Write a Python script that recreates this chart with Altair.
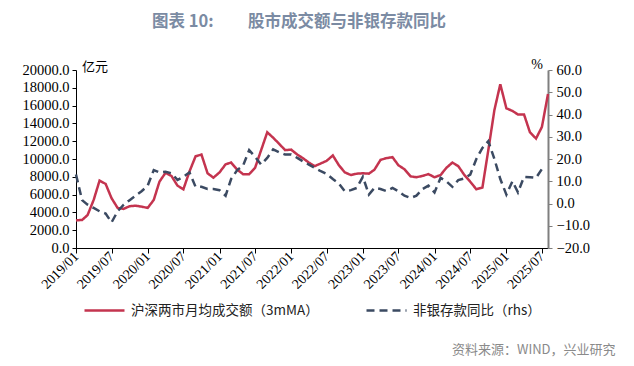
import altair as alt
import pandas as pd

months = pd.date_range("2019-01-01", "2025-08-01", freq="MS").strftime("%Y-%m-%d").tolist()

turnover = [3100, 3150, 3700, 5400, 7570, 7200, 5600, 4500, 4400, 4700,
            4750, 4650, 4500, 5400, 7450, 8450, 8100, 7000, 6600, 8600,
            10300, 10500, 8400, 7900, 8500, 9400, 9600, 8800, 8300, 8300,
            9000, 11000, 13000, 12400, 11700, 11000, 11050, 10500, 10100, 9600,
            9200, 9500, 9800, 10400, 9300, 8500, 8200, 8350, 8400, 8350,
            8800, 9900, 10100, 10200, 9300, 8850, 8050, 7950, 8100, 8300,
            7950, 8200, 9000, 9600, 9200, 8200, 7450, 6600, 6800, 11000,
            15500, 18400, 15700, 15400, 15000, 15000, 13000, 12300, 13600, 17300]

deposit_yoy = [13, 1.5, -0.5, -2, -3.5, -4.5, -8.5, -3.5, -0.5, 1.5,
               3.5, 5.5, 8, 15, 14, 14.3, 13.6, 10.6, 12, 14,
               7.5, 7.5, 6.5, 6.5, 6, 3.5, 11, 15, 17, 24,
               21, 17.5, 20.5, 24.3, 23, 22, 22, 20.5, 19, 17.5,
               16, 14.5, 13.3, 11, 9, 5.5, 6, 7, 12, 4,
               7, 6.5, 5.6, 7, 5.5, 3.5, 2.5, 3.5, 6.5, 8,
               5, 11.5, 10, 7.5, 10.5, 11.3, 13, 20, 25, 28,
               20, 11, 4, 10, 5, 12, 11.8, 11.5, 15.5, None]

series_names = ["沪深两市月均成交额（3mMA）", "非银存款同比（rhs）"]
series_colors = ["#c4344f", "#3b4a62"]
left_ticks = [0, 2000, 4000, 6000, 8000, 10000, 12000, 14000, 16000, 18000, 20000]
right_ticks = [-20, -10, 0, 10, 20, 30, 40, 50, 60]
x_ticks = ["2019-01-01", "2019-07-01", "2020-01-01", "2020-07-01", "2021-01-01",
           "2021-07-01", "2022-01-01", "2022-07-01", "2023-01-01", "2023-07-01",
           "2024-01-01", "2024-07-01", "2025-01-01", "2025-07-01"]

df1 = pd.DataFrame({"month": months, "value": turnover, "series": series_names[0]})
df2 = pd.DataFrame({"month": months, "value": deposit_yoy, "series": series_names[1]})

W, H = 472, 178
serif = "Liberation Serif"
cjk = "Noto Sans CJK SC"

color_scale = alt.Scale(domain=series_names, range=series_colors)
dash_scale = alt.Scale(domain=series_names, range=[[1, 0], [8, 5]])

x_enc = alt.X("month:T",
              scale=alt.Scale(domain=["2019-01-01", "2025-08-01"], nice=False),
              axis=alt.Axis(values=x_ticks, format="%Y/%m", labelAngle=315,
                            labelAlign="right", labelBaseline="middle",
                            labelFont=serif, labelFontSize=14, labelColor="#000",
                            labelPadding=1, labelOffset=0,
                            domainColor="#000", tickColor="#000", tickSize=5,
                            grid=False, title=None, labelOverlap=False))

legend = alt.Legend(orient="none", legendX=7, legendY=219, direction="horizontal",
                    title=None, symbolType="stroke", symbolSize=1600,
                    symbolStrokeWidth=2.5, labelFont=cjk, labelFontSize=13.5,
                    labelColor="#222", columnPadding=42, labelLimit=400,
                    symbolOffset=0, labelOffset=5)

red = alt.Chart(df1).mark_line(strokeWidth=2.5).encode(
    x=x_enc,
    y=alt.Y("value:Q", scale=alt.Scale(domain=[0, 20000], nice=False, zero=False),
            axis=alt.Axis(values=left_ticks, format=".1f", labelFont=serif,
                          labelFontSize=14.5, labelColor="#000", domainColor="#000",
                          tickColor="#000", tickSize=4, grid=False, title=None,
                          labelPadding=3)),
    color=alt.Color("series:N", scale=color_scale, legend=legend),
    strokeDash=alt.StrokeDash("series:N", scale=dash_scale, legend=legend),
)

blue = alt.Chart(df2).mark_line(strokeWidth=2.5).encode(
    x=x_enc,
    y=alt.Y("value:Q", scale=alt.Scale(domain=[-20, 60], nice=False, zero=False),
            axis=alt.Axis(orient="right", values=right_ticks, format=".1f",
                          labelFont=serif, labelFontSize=14.5, labelColor="#000",
                          domainColor="#7f7f7f", domainWidth=2, tickColor="#7f7f7f",
                          tickSize=4, grid=False, title=None, labelPadding=4)),
    color=alt.Color("series:N", scale=color_scale, legend=legend),
    strokeDash=alt.StrokeDash("series:N", scale=dash_scale, legend=legend),
)

labels_df = pd.DataFrame({"t": [0]})

def txt(s, x, y, size, color="#000", font=cjk, align="left", weight="normal", baseline="middle"):
    return alt.Chart(labels_df).mark_text(
        text=s, fontSize=size, color=color, font=font, align=align,
        baseline=baseline, fontWeight=weight
    ).encode(x=alt.value(x), y=alt.value(y))

title1 = txt("图表 10:", 76, -48, 16.5, color="#7b8ba3", weight="bold")
title2 = txt("股市成交额与非银存款同比", 172, -48, 16.5, color="#7b8ba3", weight="bold")
unit_l = txt("亿元", 6, -3, 13)
unit_r = txt("%", 461, -5, 14, font=serif, align="center")
source = txt("资料来源：WIND，兴业研究", 376, 280, 13, color="#8a8a8a")

chart = alt.layer(red, blue, title1, title2, unit_l, unit_r, source).resolve_scale(
    y="independent"
).properties(
    width=W, height=H,
    autosize=alt.AutoSizeParams(type="none"),
    padding={"left": 68, "top": 62, "right": 78, "bottom": 110},
    background="white",
).configure_view(stroke=None)

chart.save("out.html", embed_options={"renderer": "svg", "actions": False})
